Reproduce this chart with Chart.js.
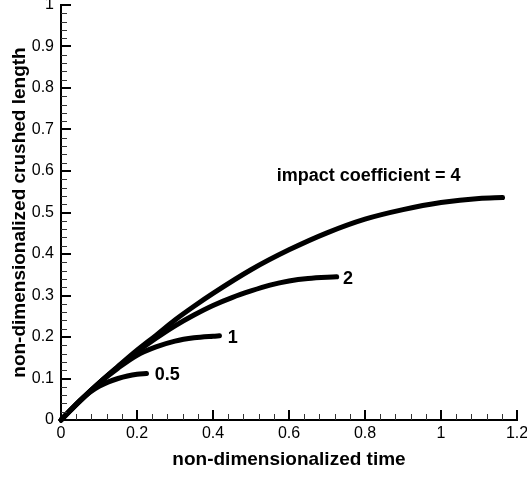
<!DOCTYPE html>
<html>
<head>
<meta charset="utf-8">
<script src="https://cdn.jsdelivr.net/npm/chart.js@4.4.0/dist/chart.umd.min.js"></script>
<style>
  html, body { margin: 0; padding: 0; background: #fff; }
  #wrap { width: 527px; height: 479px; }
</style>
</head>
<body>
<div id="wrap"><canvas id="crush"></canvas></div>
<script>
// curves, one pair of arrays per impact coefficient
const time4 = [0, 0.05, 0.1, 0.15, 0.2, 0.25, 0.3, 0.35, 0.4, 0.5, 0.6, 0.7, 0.8, 0.9, 1.0, 1.1, 1.162];
const length4 = [0, 0.046, 0.089, 0.129, 0.168, 0.204, 0.241, 0.274, 0.305, 0.362, 0.41, 0.451, 0.484, 0.507, 0.524, 0.534, 0.536];

const time2 = [0, 0.05, 0.1, 0.15, 0.2, 0.25, 0.3, 0.35, 0.4, 0.45, 0.5, 0.55, 0.6, 0.65, 0.7255];
const length2 = [0, 0.046, 0.089, 0.128, 0.164, 0.197, 0.227, 0.253, 0.276, 0.295, 0.311, 0.325, 0.335, 0.341, 0.345];

const time1 = [0, 0.05, 0.1, 0.15, 0.2, 0.25, 0.3, 0.35, 0.4, 0.417];
const length1 = [0, 0.047, 0.089, 0.125, 0.156, 0.176, 0.19, 0.198, 0.202, 0.203];

const time05 = [0, 0.025, 0.05, 0.075, 0.1, 0.125, 0.15, 0.175, 0.2, 0.225];
const length05 = [0, 0.024, 0.046, 0.066, 0.081, 0.092, 0.1, 0.106, 0.11, 0.112];

// text written next to the curves, anchored in data units
const curveLabels = ["impact coefficient = 4", "2", "1", "0.5"];
const labelTime = [0.568, 0.742, 0.439, 0.247];
const labelLength = [0.577, 0.328, 0.186, 0.0965];

const xTitle = "non-dimensionalized time";
const yTitle = "non-dimensionalized crushed length";

const FONT = "'Liberation Sans', Arial, Helvetica, sans-serif";

function toPoints(xs, ys){
    return xs.map((x, i) => ({ x: x, y: ys[i] }));
}

function curve(xs, ys){
    return {
        data: toPoints(xs, ys),
        borderColor: "#000",
        borderWidth: 5,
        borderCapStyle: "round",
        borderJoinStyle: "round",
        pointRadius: 0,
        cubicInterpolationMode: "monotone",
        clip: false
    };
}

// ticks drawn inside the frame, major and minor
const inwardTicks = {
    id: "inwardTicks",
    afterDraw(chart){
        const ctx = chart.ctx;
        const xs = chart.scales.x, ys = chart.scales.y;
        const area = chart.chartArea;
        ctx.save();
        for (let i = 0; i <= 30; i++) {
            const major = i % 5 === 0;
            const px = Math.round(xs.getPixelForValue(i * 0.04));
            const off = major ? 0 : 0.5;
            ctx.beginPath();
            ctx.lineWidth = major ? 2 : 1;
            ctx.strokeStyle = major ? "#000" : "#333";
            ctx.moveTo(px + off, area.bottom);
            ctx.lineTo(px + off, area.bottom - (major ? 10 : 6));
            ctx.stroke();
        }
        for (let i = 0; i <= 50; i++) {
            const major = i % 5 === 0;
            const py = Math.round(ys.getPixelForValue(i * 0.02));
            const off = major ? 0 : 0.5;
            ctx.beginPath();
            ctx.lineWidth = major ? 2 : 1;
            ctx.strokeStyle = major ? "#000" : "#333";
            ctx.moveTo(area.left, py + off);
            ctx.lineTo(area.left + (major ? 10 : 6), py + off);
            ctx.stroke();
        }
        ctx.restore();
    }
};

// curve names
const curveText = {
    id: "curveText",
    afterDatasetsDraw(chart){
        const ctx = chart.ctx;
        ctx.save();
        ctx.fillStyle = "#000";
        ctx.font = "bold 18px " + FONT;
        ctx.textAlign = "left";
        ctx.textBaseline = "alphabetic";
        curveLabels.forEach((txt, i) => {
            ctx.fillText(txt, chart.scales.x.getPixelForValue(labelTime[i]), chart.scales.y.getPixelForValue(labelLength[i]));
        });
        ctx.restore();
    }
};

const ctx = document.getElementById("crush");
new Chart(ctx, {
    type: "line",
    data: {
        datasets: [
            curve(time4, length4),
            curve(time2, length2),
            curve(time1, length1),
            curve(time05, length05)
        ]
    },
    options: {
        animation: false,
        responsive: true,
        maintainAspectRatio: false,
        layout: { padding: { top: 5, right: 10, left: 0, bottom: 0 } },
        plugins: {
            legend: { display: false },
            tooltip: { enabled: false }
        },
        scales: {
            x: {
                type: "linear",
                min: 0,
                max: 1.2,
                ticks: {
                    stepSize: 0.2,
                    color: "#000",
                    padding: 4,
                    maxRotation: 0,
                    font: { family: FONT, size: 16 },
                    callback: v => String(Number(v.toFixed(1)))
                },
                grid: { display: false, drawTicks: false },
                border: { display: true, color: "#000", width: 2 },
                title: {
                    display: true,
                    text: xTitle,
                    color: "#000",
                    padding: { top: 0, bottom: 8 },
                    font: { family: FONT, size: 19, weight: "bold" }
                },
                afterFit: function(scale){
                    scale.height = 59;
                    scale.paddingLeft = 0;
                    scale.paddingRight = 0;
                }
            },
            y: {
                min: 0,
                max: 1,
                ticks: {
                    stepSize: 0.1,
                    color: "#000",
                    padding: 7,
                    font: { family: FONT, size: 16 },
                    callback: v => String(Number(v.toFixed(1)))
                },
                grid: { display: false, drawTicks: false },
                border: { display: true, color: "#000", width: 2 },
                title: {
                    display: true,
                    text: yTitle,
                    color: "#000",
                    padding: { top: 8, bottom: 0 },
                    font: { family: FONT, size: 19, weight: "bold" }
                },
                afterFit: function(scale){
                    scale.width = 61;
                    scale.paddingTop = 0;
                    scale.paddingBottom = 0;
                }
            }
        }
    },
    plugins: [inwardTicks, curveText]
});
</script>
</body>
</html>
